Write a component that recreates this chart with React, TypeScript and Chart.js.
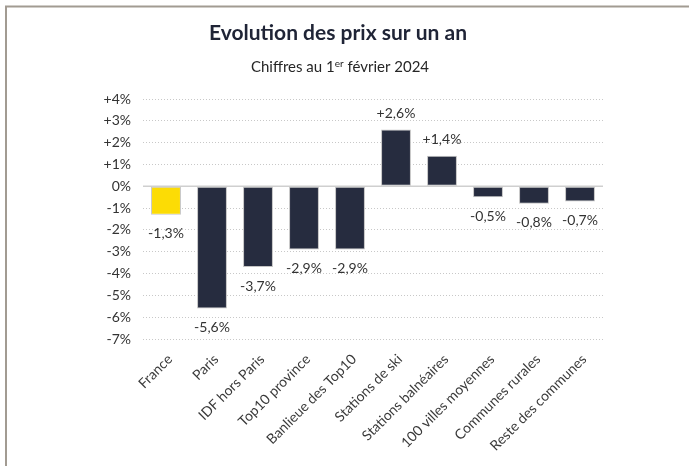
import React, { useEffect, useRef } from "react";
import { Chart, registerables } from "chart.js";

Chart.register(...registerables);

const TITLE = "Evolution des prix sur un an";
const SUBTITLE_PARTS = ["Chiffres au 1", "er", " février 2024"];

const categories = [
  "France",
  "Paris",
  "IDF hors Paris",
  "Top10 province",
  "Banlieue des Top10",
  "Stations de ski",
  "Stations balnéaires",
  "100 villes moyennes",
  "Communes rurales",
  "Reste des communes",
];
const values = [-1.3, -5.6, -3.7, -2.9, -2.9, 2.6, 1.4, -0.5, -0.8, -0.7];
const barColors = [
  "#FCDC05",
  "#262C3F",
  "#262C3F",
  "#262C3F",
  "#262C3F",
  "#262C3F",
  "#262C3F",
  "#262C3F",
  "#262C3F",
  "#262C3F",
];
const yMin = -7;
const yMax = 4;

const FONT = "Lato, 'Open Sans', sans-serif";

const fmt = (v: number) => (v > 0 ? "+" : "") + v.toFixed(1).replace(".", ",") + "%";

const decorPlugin = {
  id: "decor",
  beforeDraw(chart: any) {
    const ctx = chart.ctx;
    ctx.save();
    ctx.fillStyle = "#ffffff";
    ctx.fillRect(0, 0, chart.width, chart.height);
    ctx.strokeStyle = "#a29b92";
    ctx.lineWidth = 2;
    ctx.beginPath();
    ctx.moveTo(6, chart.height);
    ctx.lineTo(6, 6.5);
    ctx.lineTo(chart.width, 6.5);
    ctx.stroke();

    // title
    ctx.fillStyle = "#1f2436";
    ctx.textAlign = "center";
    ctx.textBaseline = "middle";
    ctx.font = "bold 21px " + FONT;
    ctx.fillText(TITLE, 338, 33);

    // subtitle with superscript
    ctx.fillStyle = "#262626";
    const big = "15px " + FONT;
    const small = "10px " + FONT;
    ctx.font = big;
    const w0 = ctx.measureText(SUBTITLE_PARTS[0]).width;
    const w2 = ctx.measureText(SUBTITLE_PARTS[2]).width;
    ctx.font = small;
    const w1 = ctx.measureText(SUBTITLE_PARTS[1]).width;
    const total = w0 + w1 + w2;
    let x = 340 - total / 2;
    ctx.textAlign = "left";
    ctx.textBaseline = "alphabetic";
    const base = 72;
    ctx.font = big;
    ctx.fillText(SUBTITLE_PARTS[0], x, base);
    x += w0;
    ctx.font = small;
    ctx.fillText(SUBTITLE_PARTS[1], x, base - 5);
    x += w1;
    ctx.font = big;
    ctx.fillText(SUBTITLE_PARTS[2], x, base);
    ctx.restore();
  },
  beforeDatasetsDraw(chart: any) {
    const ctx = chart.ctx;
    const y0 = chart.scales.y.getPixelForValue(0);
    const area = chart.chartArea;
    ctx.save();
    ctx.strokeStyle = "#cfcfcf";
    ctx.lineWidth = 1.5;
    ctx.beginPath();
    ctx.moveTo(area.left, y0);
    ctx.lineTo(area.right, y0);
    ctx.stroke();
    ctx.restore();
  },
  afterDatasetsDraw(chart: any) {
    const ctx = chart.ctx;
    const meta = chart.getDatasetMeta(0);
    ctx.save();
    ctx.fillStyle = "#333333";
    ctx.font = "14px " + FONT;
    ctx.textAlign = "center";
    ctx.textBaseline = "middle";
    meta.data.forEach((bar: any, i: number) => {
      const v = values[i];
      const y = v >= 0 ? bar.y - 16 : bar.y + 19;
      ctx.fillText(fmt(v), bar.x, y);
    });
    ctx.restore();
  },
};

export default function App() {
  const ref = useRef<HTMLCanvasElement | null>(null);
  useEffect(() => {
    if (!ref.current) return;
    const chart = new Chart(ref.current, {
      type: "bar",
      data: {
        labels: categories,
        datasets: [
          {
            data: values,
            backgroundColor: barColors,
            borderColor: "#c4c4c4",
            borderWidth: 1,
            borderSkipped: false,
            barPercentage: 0.65,
            categoryPercentage: 1,
          },
        ],
      },
      options: {
        responsive: false,
        animation: false,
        layout: { padding: { top: 99, right: 86, left: 0, bottom: 0 } },
        plugins: {
          legend: { display: false },
          title: { display: false },
          tooltip: { enabled: false },
        },
        scales: {
          x: {
            grid: { display: false },
            border: { display: false },
            ticks: {
              autoSkip: false,
              minRotation: 45,
              maxRotation: 45,
              padding: 4,
              labelOffset: 4,
              color: "#3a3a3a",
              font: { family: FONT, size: 14 },
            },
            afterFit(axis: any) {
              axis.height = 127;
            },
          },
          y: {
            min: yMin,
            max: yMax,
            ticks: {
              stepSize: 1,
              padding: 12,
              color: "#333333",
              font: { family: FONT, size: 14 },
              callback: (v: any) => (v > 0 ? "+" + v + "%" : v + "%"),
            },
            grid: { color: "#c8c8c8", lineWidth: 1, drawTicks: false },
            border: { display: false, dash: [1, 2] },
            afterFit(axis: any) {
              axis.width = 143;
            },
          },
        },
      },
      plugins: [decorPlugin],
    } as any);
    return () => chart.destroy();
  }, []);
  return (
    <div style={{ position: "absolute", left: 0, top: 0, width: 689, height: 466 }}>
      <canvas ref={ref} width={689} height={466} />
    </div>
  );
}
